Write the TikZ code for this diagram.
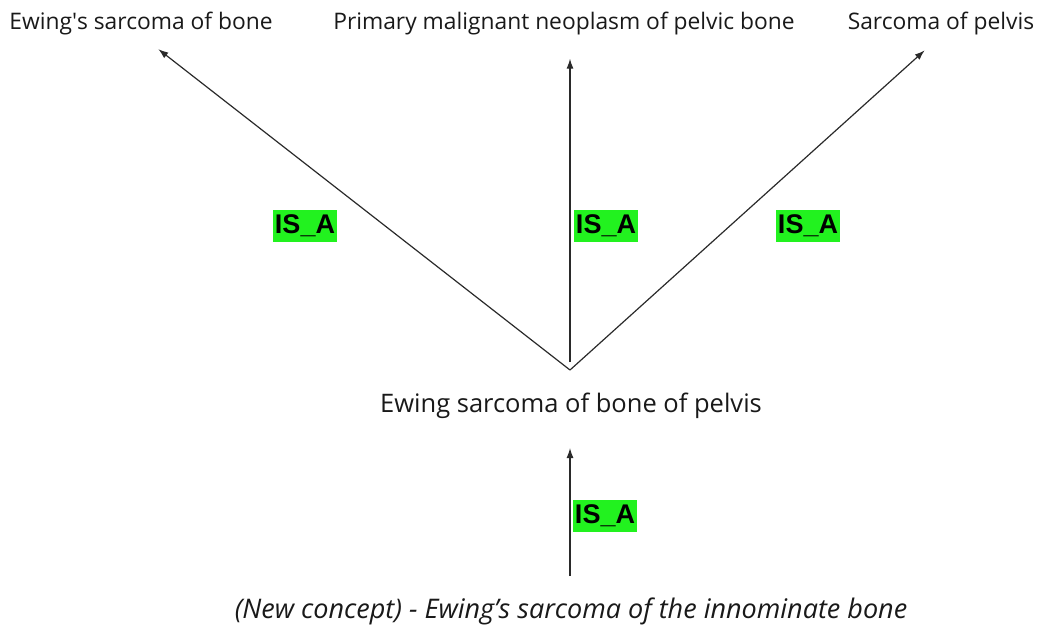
\documentclass[tikz,border=0pt]{standalone}
\usepackage{fontspec}
\setmainfont{Open Sans}
\newfontfamily\isafont{Liberation Sans}
\usetikzlibrary{arrows.meta,positioning}
\definecolor{relGreen}{HTML}{22F21F}
\definecolor{lineGray}{HTML}{2A2A2A}

\begin{document}
\begin{tikzpicture}[x=1pt,y=-1pt,
    concept/.style={font=\fontsize{22.8}{26}\selectfont, inner sep=0pt, text=black!90},
    midconcept/.style={concept, font=\fontsize{25.5}{28}\selectfont},
    newconcept/.style={concept, font=\fontsize{27}{30}\selectfont\itshape},
    isa/.style={draw=lineGray, line width=1.2pt, -{Latex[length=10pt,width=7pt]}},
    rel/.style={fill=relGreen, font=\isafont\bfseries\fontsize{27}{29}\selectfont,
      inner xsep=2pt, inner ysep=0pt, minimum height=32pt}]
  \useasboundingbox (0,0) rectangle (1041,630);
  % parents
  \node[concept] (ewb) at (141,24) {Ewing\textquotesingle s sarcoma of bone};
  \node[concept] (pmn) at (564,24) {Primary malignant neoplasm of pelvic bone};
  \node[concept] (sop) at (941,24) {Sarcoma of pelvis};
  % the concept and the new one
  \node[midconcept] (esp) at (571,406) {Ewing sarcoma of bone of pelvis};
  \node[newconcept] (esi) at (571,611) {(New concept) - Ewing’s sarcoma of the innominate bone};
  \coordinate (apex) at (570,370);
  % IS_A links
  \draw[isa, shorten >=22pt] (apex) -- (ewb.south);
  \draw[isa, shorten <=8pt, shorten >=23pt] (apex) -- (pmn.south -| apex);
  \draw[isa, shorten >=22pt] (apex) -- (sop.south);
  \draw[isa, shorten <=21pt, shorten >=29pt] (esi.north -| apex) -- (esp.south -| apex);
  \node[rel] (r1) at (305,226) {IS\_A};
  \node[rel] (r2) at (606,226) {IS\_A};
  \node[rel] (r3) at (808,226) {IS\_A};
  \node[rel] (r4) at (605,516) {IS\_A};
\end{tikzpicture}
\end{document}
